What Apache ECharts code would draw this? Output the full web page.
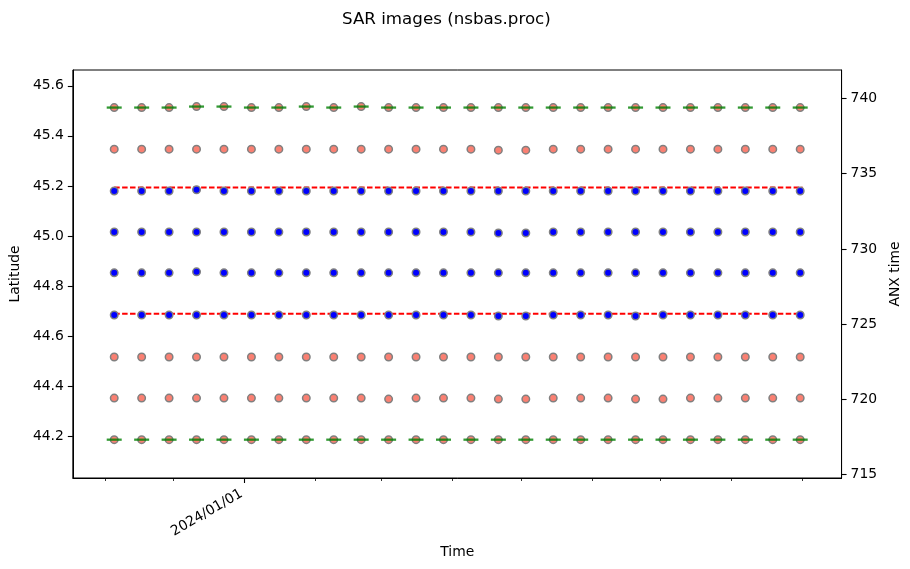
<!DOCTYPE html>
<html><head><meta charset="utf-8">
<script src="https://cdn.jsdelivr.net/npm/echarts@6/dist/echarts.min.js"></script>
<style>html,body{margin:0;padding:0;background:#fff}#c{width:910px;height:569px}</style>
</head><body><div id="c"></div>
<script>
// acquisition dates (12-day repeat)
const dates = ['2023-11-05','2023-11-17','2023-11-29','2023-12-11','2023-12-23','2024-01-04','2024-01-16','2024-01-28','2024-02-09','2024-02-21','2024-03-04','2024-03-16','2024-03-28','2024-04-09','2024-04-21','2024-05-03','2024-05-15','2024-05-27','2024-06-08','2024-06-20','2024-07-02','2024-07-14','2024-07-26','2024-08-07','2024-08-19','2024-08-31'];

// latitude rows (top to bottom)
const latA = [45.513,45.513,45.513,45.517,45.517,45.513,45.513,45.517,45.513,45.517,45.513,45.513,45.513,45.513,45.513,45.513,45.513,45.513,45.513,45.513,45.513,45.513,45.513,45.513,45.513,45.513];
const latB = [45.347,45.347,45.347,45.347,45.347,45.347,45.347,45.347,45.347,45.347,45.347,45.347,45.347,45.347,45.343,45.343,45.347,45.347,45.347,45.347,45.347,45.347,45.347,45.347,45.347,45.347];
const latC = [45.180,45.180,45.180,45.185,45.180,45.180,45.180,45.180,45.180,45.180,45.180,45.180,45.180,45.180,45.180,45.180,45.180,45.180,45.180,45.180,45.180,45.180,45.180,45.180,45.180,45.180];
const latD = [45.016,45.016,45.016,45.016,45.016,45.016,45.016,45.016,45.016,45.016,45.016,45.016,45.016,45.016,45.012,45.012,45.016,45.016,45.016,45.016,45.016,45.016,45.016,45.016,45.016,45.016];
const latE = [44.853,44.853,44.853,44.857,44.853,44.853,44.853,44.853,44.853,44.853,44.853,44.853,44.853,44.853,44.853,44.853,44.853,44.853,44.853,44.853,44.853,44.853,44.853,44.853,44.853,44.853];
const latF = [44.685,44.685,44.685,44.685,44.685,44.685,44.685,44.685,44.685,44.685,44.685,44.685,44.685,44.685,44.681,44.681,44.685,44.685,44.685,44.681,44.685,44.685,44.685,44.685,44.685,44.685];
const latG = [44.517,44.517,44.517,44.517,44.517,44.517,44.517,44.517,44.517,44.517,44.517,44.517,44.517,44.517,44.517,44.517,44.517,44.517,44.517,44.517,44.517,44.517,44.517,44.517,44.517,44.517];
const latH = [44.353,44.353,44.353,44.353,44.353,44.353,44.353,44.353,44.353,44.353,44.349,44.353,44.353,44.353,44.349,44.349,44.353,44.353,44.353,44.349,44.349,44.353,44.353,44.353,44.353,44.353];
const latI = [44.187,44.187,44.187,44.187,44.187,44.187,44.187,44.187,44.187,44.187,44.187,44.187,44.187,44.187,44.187,44.187,44.187,44.187,44.187,44.187,44.187,44.187,44.187,44.187,44.187,44.187];

const salmonRows = [latA, latB, latG, latH, latI];
const blueRows = [latC, latD, latE, latF];
const greenRows = [latA, latI];

// reference frame lines
const refLats = [45.194, 44.69];
const refSpan = ['2023-11-05', '2024-09-01'];

// axes
const xMin = '2023-10-17T21:36:00Z';
const xMax = '2024-09-18T02:24:00Z';
const monthTicks = ['2023-11-01','2023-12-01','2024-02-01','2024-03-01','2024-04-01','2024-05-01','2024-06-01','2024-07-01','2024-08-01','2024-09-01'];
const yearTicks = ['2024-01-01'];
const latTicks = [44.2, 44.4, 44.6, 44.8, 45.0, 45.2, 45.4, 45.6];
const latMin = 44.034, latMax = 45.663;
const anxTicks = [715, 720, 725, 730, 735, 740];
const anxMin = 714.78, anxMax = 741.89;

const ts = s => Date.parse(s.length === 10 ? s + 'T00:00:00Z' : s);
const pairs = lats => dates.map((d, i) => [ts(d), lats[i]]);
const pad = n => (n < 10 ? '0' : '') + n;
const fmtDate = v => { const d = new Date(v); return d.getUTCFullYear() + '/' + pad(d.getUTCMonth() + 1) + '/' + pad(d.getUTCDate()); };
const FONT = 'DejaVu Sans';

const series = [];
refLats.forEach(lat => series.push({
  type: 'line', xAxisIndex: 0, yAxisIndex: 0, z: 1, symbol: 'none', silent: true,
  data: refSpan.map(d => [ts(d), lat]),
  lineStyle: { color: '#ff0000', width: 2, type: [5.5, 2.4] }
}));
const pointStyle = c => ({ color: c, borderColor: '#808080', borderWidth: 1.5, opacity: 1 });
salmonRows.forEach(r => series.push({
  type: 'scatter', xAxisIndex: 0, yAxisIndex: 0, z: 2, symbol: 'circle', symbolSize: 7.5,
  data: pairs(r), itemStyle: pointStyle('#fa8072')
}));
blueRows.forEach(r => series.push({
  type: 'scatter', xAxisIndex: 0, yAxisIndex: 0, z: 2, symbol: 'circle', symbolSize: 7.5,
  data: pairs(r), itemStyle: pointStyle('#0000ff')
}));
greenRows.forEach(r => series.push({
  type: 'scatter', xAxisIndex: 0, yAxisIndex: 0, z: 3, symbol: 'rect', symbolSize: [15, 2.3],
  data: pairs(r), itemStyle: { color: '#008000', borderWidth: 0 }
}));

const chart = echarts.init(document.getElementById('c'), null, { renderer: 'canvas' });
chart.setOption({
  animation: false,
  backgroundColor: '#ffffff',
  textStyle: { fontFamily: FONT },
  title: {
    text: 'SAR images (nsbas.proc)', left: 337, top: 6,
    textStyle: { fontFamily: FONT, fontSize: 16.7, fontWeight: 'normal', color: '#000' }
  },
  grid: { left: 71, top: 70, width: 775, height: 408, show: true, borderColor: '#000', borderWidth: 1, backgroundColor: 'transparent' },
  xAxis: [
    {
      type: 'value', position: 'bottom', min: ts(xMin), max: ts(xMax), scale: true,
      name: 'Time', nameLocation: 'middle', nameGap: 67,
      nameTextStyle: { fontFamily: FONT, fontSize: 13.9, color: '#000' },
      axisLine: { show: true, lineStyle: { color: '#000', width: 1 } },
      axisTick: { show: true, length: 3, lineStyle: { color: '#000', width: 0.8 }, customValues: monthTicks.map(ts) },
      axisLabel: { show: false },
      splitLine: { show: false }
    },
    {
      type: 'value', position: 'bottom', min: ts(xMin), max: ts(xMax), scale: true,
      axisLine: { show: false },
      axisTick: { show: true, length: 5, lineStyle: { color: '#000', width: 1.1 }, customValues: yearTicks.map(ts) },
      axisLabel: { show: true, rotate: 30, margin: 13, padding: [0, 3.5, 0, 0], fontFamily: FONT, fontSize: 13.9, color: '#000',
        customValues: yearTicks.map(ts), formatter: v => fmtDate(v) },
      splitLine: { show: false }
    }
  ],
  yAxis: [
    {
      type: 'value', position: 'left', min: latMin, max: latMax, scale: true,
      name: 'Latitude', nameLocation: 'middle', nameGap: 47,
      nameTextStyle: { fontFamily: FONT, fontSize: 13.9, color: '#000' },
      axisLine: { show: true, lineStyle: { color: '#000', width: 1 } },
      axisTick: { show: true, length: 5, lineStyle: { color: '#000', width: 1.1 }, customValues: latTicks },
      axisLabel: { show: true, margin: 9, fontFamily: FONT, fontSize: 13.9, color: '#000', customValues: latTicks, formatter: v => v.toFixed(1) },
      splitLine: { show: false }
    },
    {
      type: 'value', position: 'right', min: anxMin, max: anxMax, scale: true,
      name: 'ANX time', nameLocation: 'middle', nameGap: 39,
      nameTextStyle: { fontFamily: FONT, fontSize: 13.9, color: '#000' },
      axisLine: { show: true, lineStyle: { color: '#000', width: 1 } },
      axisTick: { show: true, length: 5, lineStyle: { color: '#000', width: 1.1 }, customValues: anxTicks },
      axisLabel: { show: true, margin: 9, fontFamily: FONT, fontSize: 13.9, color: '#000', customValues: anxTicks, formatter: v => String(Math.round(v)) },
      splitLine: { show: false }
    }
  ],
  series: series
});
</script>
</body></html>
